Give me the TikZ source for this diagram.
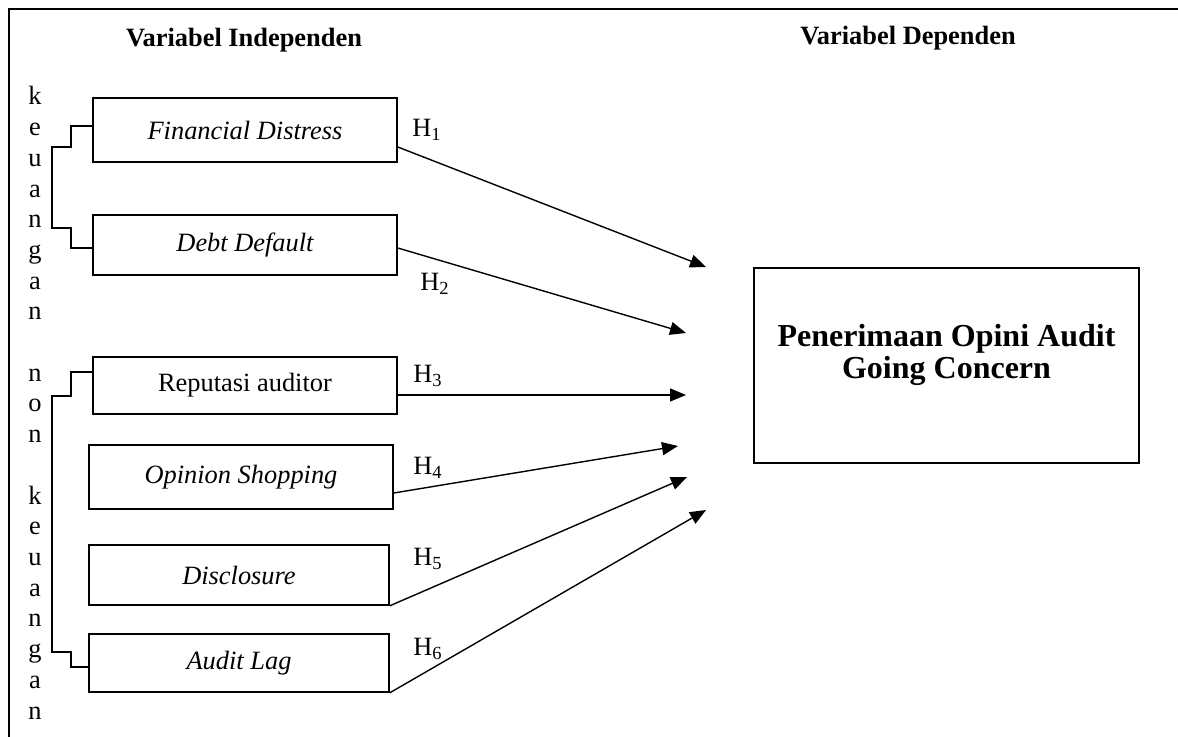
\documentclass[tikz,border=0pt]{standalone}
\usepackage{fontspec}
\setmainfont{Liberation Serif}
\usetikzlibrary{arrows.meta}

\tikzset{
  varbox/.style={draw, line width=0.8pt, minimum width=152pt, minimum height=30pt, inner sep=0pt},
  depbox/.style={draw, line width=0.8pt, minimum width=192.5pt, minimum height=97.5pt, inner sep=0pt},
  hlabel/.style={inner sep=0pt},
  letter/.style={inner sep=0pt, anchor=base},
  bracket/.style={line width=0.8pt},
  hyp/.style={line width=0.7pt, -{Triangle[length=8pt,width=6.5pt]}}
}

\begin{document}
\begin{tikzpicture}[x=0.5pt, y=-0.5pt, every node/.append style={font=\fontsize{13.2}{16}\selectfont}]
  \useasboundingbox (0,0) rectangle (1178,737);

  % Frame
  \draw[line width=1pt] (1178,9) -- (9,9) -- (9,737);

  % Headings
  \node[font=\fontsize{13.2}{16}\selectfont\bfseries] (indep) at (244,40) {Variabel Independen};
  \node[font=\fontsize{13.2}{16}\selectfont\bfseries] (dep)   at (908,38) {Variabel Dependen};

  % Independent variables
  \node[varbox, minimum height=32pt] (fd) at (245,130) {\itshape Financial Distress};
  \node[varbox] (dd) at (245,245) {\itshape Debt Default};
  \node[varbox, minimum height=28.5pt] (ra) at (245,385.5) {Reputasi auditor};
  \node[varbox, minimum height=32pt] (os) at (241,477) {\itshape Opinion Shopping};
  \node[varbox, minimum width=150pt] (dc) at (239,575) {\itshape Disclosure};
  \node[varbox, minimum width=150pt, minimum height=29pt] (al) at (239,663) {\itshape Audit Lag};

  % Dependent variable
  \node[depbox] (gc) at (946.5,365.5) {};
  \node[font=\fontsize{16}{16}\selectfont\bfseries, align=center] (gctext) at (946.5,355)
    {Penerimaan Opini Audit\\Going Concern};

  % Vertical side text
  \foreach \ch [count=\i from 0] in {k,e,u,a,n,g,a,n,{},n,o,n,{},k,e,u,a,n,g,a,n}
    \node[letter] (side\i) at (35,105+30.7*\i) {\ch};

  % Brackets
  \draw[bracket] ([yshift=2pt]fd.west) -- ++(-21,0) -- ++(0,21) -- ++(-19,0)
    -- ++(0,81) -- ++(19,0) |- ([yshift=-1.5pt]dd.west);
  \draw[bracket] ([yshift=6.75pt]ra.west) -- ++(-21,0) -- ++(0,24) -- ++(-19,0)
    -- ++(0,256) -- ++(19,0) |- ([yshift=-2pt]al.west);

  % Arrow ends
  \coordinate (e1) at (706,267);
  \coordinate (e2) at (686,333);
  \coordinate (e3) at (686,395);
  \coordinate (e4) at (678,446);
  \coordinate (e5) at (687,477);
  \coordinate (e6) at (706,510);

  % Hypotheses
  \draw[hyp] ([yshift=-8.5pt]fd.east) -- (e1);
  \draw[hyp] ([yshift=-1.5pt]dd.east) -- (e2);
  \draw[hyp] ([yshift=-4.75pt]ra.east) -- (e3);
  \draw[hyp] ([yshift=-8pt]os.east) -- (e4);
  \draw[hyp] (dc.south east) -- (e5);
  \draw[hyp] (al.south east) -- (e6);

  \node[hlabel] (h1) at (427,130) {H\textsubscript{1}};
  \node[hlabel] (h2) at (435,284) {H\textsubscript{2}};
  \node[hlabel] (h3) at (428,376) {H\textsubscript{3}};
  \node[hlabel] (h4) at (428,468) {H\textsubscript{4}};
  \node[hlabel] (h5) at (428,559) {H\textsubscript{5}};
  \node[hlabel] (h6) at (428,649) {H\textsubscript{6}};
\end{tikzpicture}
\end{document}
